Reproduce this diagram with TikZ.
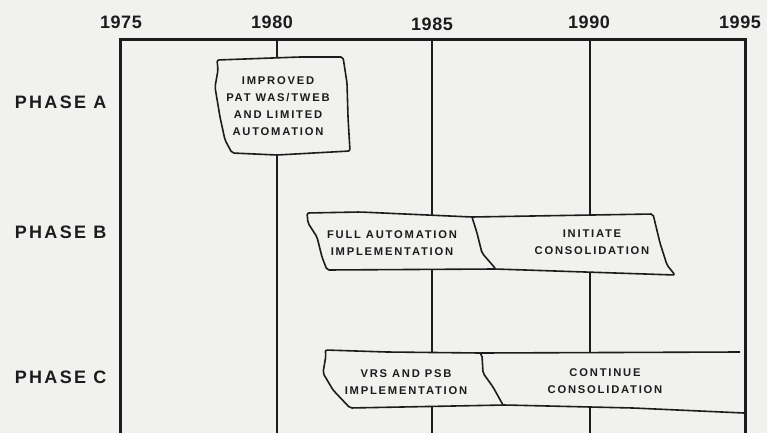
\documentclass[tikz,border=0pt]{standalone}
\usepackage{fontspec}
\setsansfont{Liberation Sans}
\newfontfamily\yearfont[LetterSpace=3]{Liberation Sans}
\newfontfamily\phasefont[LetterSpace=13]{Liberation Sans}
\newfontfamily\taskfont[LetterSpace=16]{Liberation Sans}
\definecolor{ink}{RGB}{28,28,28}
\definecolor{paper}{RGB}{241,241,239}
\begin{document}
\begin{tikzpicture}[x=1pt, y=-1pt,
    every node/.style={align=center, text=ink},
    year/.style={font=\yearfont\bfseries\fontsize{18}{20}\selectfont},
    phase/.style={anchor=east, font=\phasefont\bfseries\fontsize{18}{20}\selectfont},
    task/.style={font=\taskfont\bfseries\fontsize{11.2}{17}\selectfont},
    frameline/.style={draw=ink, line width=3pt},
    gridline/.style={draw=ink, line width=1.4pt},
    barline/.style={draw=ink, line width=1.6pt, fill=paper, rounded corners=2pt, line join=round}]
    \fill[paper] (0,0) rectangle (767,433);
    \useasboundingbox (0,0) rectangle (767,433);

    % Years
    \foreach \yr/\x/\y in {1975/121/22, 1980/272/22, 1985/432/24, 1990/589/22, 1995/740/22}
        \node[year] (y\yr) at (\x,\y) {\yr};

    % Frame and year lines
    \draw[frameline] (120,433) -- (120,40) -- (745,40) -- (745,433);
    \foreach \x in {277,432,590}
        \draw[gridline] (\x,40) -- (\x,433);

    % Phases
    \node[phase] (phA) at (110,102) {PHASE A};
    \node[phase] (phB) at (110,232) {PHASE B};
    \node[phase] (phC) at (110,377) {PHASE C};

    % Phase A
    \draw[barline] (217,60) -- (300,57) -- (343,57) -- (347,83) -- (348,117) -- (350,151)
        -- (277,155) -- (232,153) -- (225,140) -- (220,117) -- (215,87) -- (218,70) -- cycle;
    \node[task] (tA) at (278,106) {IMPROVED\\PAT WAS/TWEB\\AND LIMITED\\AUTOMATION};

    % Phase B
    \draw[barline] (307,213) -- (360,212) -- (472,217) -- (653,214) -- (660,243) -- (667,265)
        -- (675,275) -- (495,269) -- (327,270) -- (322,257) -- (317,237) -- (308,223) -- cycle;
    \draw[barline, fill=none] (472,217) -- (477,233) -- (482,253) -- (495,268);
    \node[task] (tB1) at (392,243) {FULL AUTOMATION\\IMPLEMENTATION};
    \node[task] (tB2) at (592,242) {INITIATE\\CONSOLIDATION};

    % Phase C
    \fill[paper] (740,352) -- (480,353) -- (387,352) -- (325,350) -- (326,355) -- (323,373)
        -- (333,390) -- (350,408) -- (505,405) -- (633,408) -- (744,413) -- cycle;
    \draw[barline, fill=none] (740,352) -- (480,353) -- (387,352) -- (325,350) -- (326,355)
        -- (323,373) -- (333,390) -- (350,408) -- (505,405) -- (633,408) -- (744,413);
    \draw[barline, fill=none] (480,353) -- (482,355) -- (483,373) -- (493,387) -- (503,405);
    \node[task] (tC1) at (406,382) {VRS AND PSB\\IMPLEMENTATION};
    \node[task] (tC2) at (605,381) {CONTINUE\\CONSOLIDATION};
\end{tikzpicture}
\end{document}
